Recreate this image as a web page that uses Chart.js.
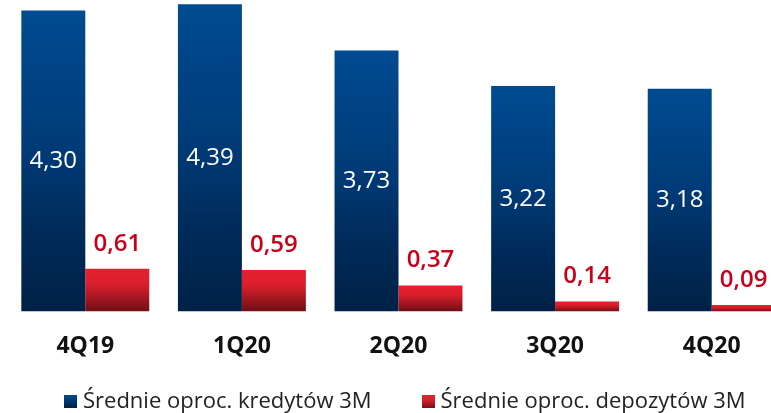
<!DOCTYPE html>
<html>
<head>
<meta charset="utf-8">
<script src="https://cdn.jsdelivr.net/npm/chart.js@4.4.1/dist/chart.umd.min.js"></script>
<style>
  html, body { margin: 0; padding: 0; background: #fff; overflow: hidden; }
  #wrap { position: relative; width: 790px; height: 413px; }
  #legend {
    position: absolute; left: 64px; top: 384px; display: flex; align-items: center;
    font-family: 'Open Sans', sans-serif; font-size: 22px; color: #222; white-space: nowrap;
  }
  #legend .item { display: flex; align-items: center; }
  #legend .box { width: 13px; height: 13px; margin-right: 6px; margin-top: 4px; }
  #legend .blue { background: linear-gradient(#004b91, #002146); }
  #legend .red { background: linear-gradient(#e4202e 30%, #7a1018); }
</style>
</head>
<body>
<div id="wrap"><canvas id="chart"></canvas><div id="legend"></div></div>
<script>
// dane z wykresu
const quarters = ['4Q19', '1Q20', '2Q20', '3Q20', '4Q20'];
const loanRates = [4.30, 4.39, 3.73, 3.22, 3.18];
const depositRates = [0.61, 0.59, 0.37, 0.14, 0.09];
const seriesNames = ['Średnie oproc. kredytów 3M', 'Średnie oproc. depozytów 3M'];

const FONT = "'Open Sans', sans-serif";

// gradient liczony dla kazdego slupka osobno (od wierzcholka do podstawy)
function barGradient(ctx, stops, fallback) {
    const chart = ctx.chart;
    if (!chart.chartArea || ctx.type !== 'data') return fallback;
    const y = chart.scales.y;
    const top = y.getPixelForValue(ctx.raw);
    const base = y.getPixelForValue(0);
    const g = chart.ctx.createLinearGradient(0, top, 0, base);
    stops.forEach(s => g.addColorStop(s[0], s[1]));
    return g;
}

const blueStops = [[0, '#004b91'], [0.45, '#003b78'], [0.75, '#002a58'], [1, '#002146']];
const redStops = [[0, '#e4202e'], [0.35, '#dc1f2c'], [1, '#6f0f15']];

function fmt(v) {
    return v.toFixed(2).replace('.', ',');
}

const valueLabels = {
    id: 'valueLabels',
    afterDatasetsDraw(chart) {
        const c = chart.ctx;
        c.save();
        c.textAlign = 'center';
        c.font = '500 24px ' + FONT;
        chart.getDatasetMeta(0).data.forEach((bar, i) => {
            c.fillStyle = '#ffffff';
            c.textBaseline = 'middle';
            c.fillText(fmt(loanRates[i]), bar.x, (bar.y + bar.base) / 2);
        });
        c.font = '600 24px ' + FONT;
        chart.getDatasetMeta(1).data.forEach((bar, i) => {
            c.fillStyle = '#c8001c';
            c.textBaseline = 'bottom';
            c.fillText(fmt(depositRates[i]), bar.x, bar.y - 13);
        });
        c.restore();
    }
};

// legenda w HTML (odstępy jak w oryginale)
const legendEl = document.getElementById('legend');
seriesNames.forEach((name, i) => {
    const item = document.createElement('div');
    item.className = 'item';
    if (i > 0) item.style.marginLeft = '50px';
    item.innerHTML = `<span class="box ${i === 0 ? 'blue' : 'red'}"></span><span>${name}</span>`;
    legendEl.appendChild(item);
});

new Chart(document.getElementById('chart'), {
    type: 'bar',
    data: {
        labels: quarters,
        datasets: [
            {
                label: seriesNames[0],
                data: loanRates,
                backgroundColor: ctx => barGradient(ctx, blueStops, '#003a76')
            },
            {
                label: seriesNames[1],
                data: depositRates,
                backgroundColor: ctx => barGradient(ctx, redStops, '#c81b27')
            }
        ]
    },
    options: {
        responsive: true,
        maintainAspectRatio: false,
        animation: false,
        categoryPercentage: 0.817,
        barPercentage: 1,
        layout: { padding: { left: 7, right: 0, top: 0, bottom: 40 } },
        scales: {
            x: {
                grid: { display: false },
                border: { display: false },
                ticks: {
                    color: '#111',
                    padding: 13,
                    font: { family: FONT, size: 23, weight: 'bold' }
                }
            },
            y: {
                display: false,
                min: 0,
                max: 4.45
            }
        },
        plugins: {
            tooltip: { enabled: false },
            legend: { display: false }
        }
    },
    plugins: [valueLabels]
});
</script>
</body>
</html>
